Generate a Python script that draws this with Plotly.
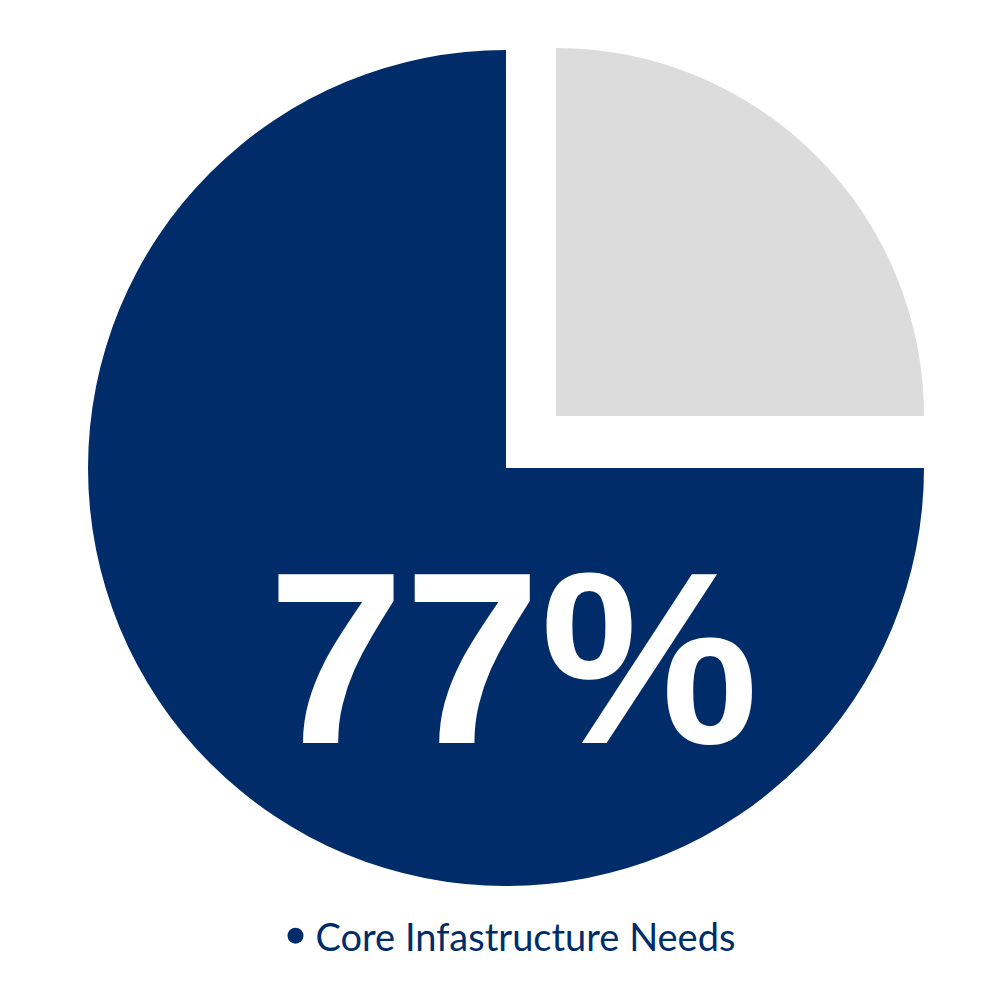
import plotly.graph_objects as go

labels = ["Other", "Core Infastructure Needs"]
values = [25, 75]
center_label = "77%"
colors = ["#DCDCDC", "#002D6A"]

fig = go.Figure()
# main navy pie (grey slice hidden)
fig.add_trace(go.Pie(labels=labels, values=values, sort=False, direction="clockwise",
                     rotation=0, marker=dict(colors=["rgba(0,0,0,0)", colors[1]]),
                     textinfo="none", hoverinfo="label+percent", showlegend=False,
                     domain=dict(x=[0.08, 0.916], y=[0.122, 0.958])))
# exploded, smaller grey slice
fig.add_trace(go.Pie(labels=labels, values=values, sort=False, direction="clockwise",
                     rotation=0, marker=dict(colors=[colors[0], "rgba(0,0,0,0)"]),
                     textinfo="none", hoverinfo="label+percent", showlegend=False,
                     domain=dict(x=[0.18, 0.916], y=[0.224, 0.96])))
fig.add_trace(go.Scatter(x=[None], y=[None], mode="markers", name=labels[1],
                         marker=dict(color=colors[1], size=30, symbol="circle")))
fig.add_annotation(text=f"<b>{center_label}</b>", x=0.505, y=0.35, xref="paper", yref="paper",
                   showarrow=False, font=dict(family="Liberation Sans", size=245, color="white"))
fig.update_layout(width=1000, height=1000, margin=dict(l=0, r=0, t=0, b=0),
                  paper_bgcolor="white", plot_bgcolor="white",
                  xaxis=dict(visible=False), yaxis=dict(visible=False),
                  legend=dict(orientation="h", x=0.5, xanchor="center", y=0.072, yanchor="middle",
                              font=dict(family="Lato", size=38, color="#002D6A")))
fig.write_html("out.html")
